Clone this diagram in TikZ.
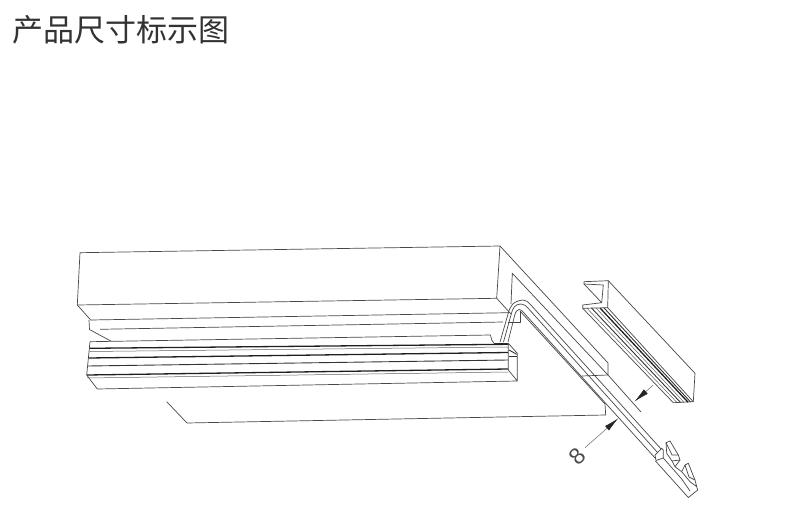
\documentclass[tikz,border=0pt]{standalone}
\usepackage{fontspec}
\setmainfont{Liberation Sans}
\newfontfamily\cjkfont{Noto Sans CJK SC}
\usetikzlibrary{arrows.meta}
\tikzset{
  ln/.style={draw=black!72,line width=0.7pt,line join=round},
  thin ln/.style={draw=black!62,line width=0.5pt,line join=round},
  stripe/.style={draw=black!88,line width=1.3pt},
  stripeb/.style={draw=black!80,line width=0.9pt},
  dim/.style={draw=black!60,line width=0.5pt,-{Latex[length=15pt,width=6pt,black!85]}},
}
\begin{document}
\begin{tikzpicture}[x=1pt,y=-1pt]
\useasboundingbox (0,0) rectangle (795,508);
\node[anchor=west,inner sep=0pt,text=black!80,font=\cjkfont\fontsize{31}{33}\selectfont] (title) at (12,30) {产品尺寸标示图};
% upper beam
\draw[ln] (77.3,305) -- (80,252.7) -- (500,246) -- (608,363) -- (608,375) -- (581.7,376);
\draw[ln] (77.3,305) -- (496.7,298.3) -- (500,246);
\draw[ln] (77.3,305) -- (90.7,320) -- (509,312.7);
\draw[ln] (496.7,298.3) -- (511,314);
\draw[ln] (511,304) -- (512.3,273.3) -- (608,375) -- (641,412);
% stepped block under beam
\draw[ln] (89,320) -- (89.5,329.5) -- (110.7,341);
\draw[ln] (100,329.3) -- (503,322);
\draw[ln] (508,322.3) -- (520,322.3) -- (520,311);
% ceiling rebate
\draw[ln] (520,311) -- (605,404) -- (605.7,415) -- (187,423) -- (166.7,401.7);
% profile in place
\draw[ln] (90,341.7) -- (490.5,335) -- (491.7,340) -- (494,343.3);
\draw[stripeb] (494,343.3) -- (508.3,343.3);
\draw[ln] (90,341.7) -- (86.7,375) -- (97.3,389) -- (517.3,381);
\draw[stripe] (89.5,348.3) -- (508,344.3);
\draw[thin ln] (89.5,351.5) -- (508,347);
\draw[stripe] (88.5,358) -- (508,352.5);
\draw[stripeb] (88,366) -- (508,360);
\draw[stripe] (87,375) -- (508,369);
\draw[thin ln] (87,378) -- (508,372);
\draw[ln] (508.3,343.3) -- (517.3,353.3) -- (517.3,381) -- (508.3,370) -- cycle;
\draw[stripeb] (509,350) -- (516.7,354.3);
\draw[stripeb] (509,356.7) -- (516.7,356.7);
% wire
\draw[ln] (500,342) -- (508,314) .. controls (510,306) and (513,301) .. (523,300) .. controls (526,300) and (528,302) .. (530,304) -- (662,450);
\draw[ln] (503.5,342) -- (511,315) .. controls (512.5,308) and (515,304) .. (521,304) .. controls (524,304) and (526,306) .. (527,307) -- (658,453);
\draw[ln] (508,342) -- (514.5,316) .. controls (515.5,312) and (517,309.5) .. (519,309.5) .. controls (521,309.5) and (522,310.5) .. (524,313) -- (656,459);
% right profile
\draw[ln] (584,281.7) -- (608.3,280.7) -- (695,373.3) -- (693.3,401.7) -- (673.3,402.7);
\draw[ln] (584,281.7) -- (584,284) -- (601.7,302.7) -- (582.7,305) -- (582.7,308.3) -- (607.7,307.7) -- (608.3,280.7);
\draw[ln] (584,284) -- (603.3,285) -- (601.7,302.7);
\draw[ln] (582.7,308.3) -- (673.3,402.7);
\draw[thin ln] (587,308.3) -- (677,402.5);
\draw[stripeb] (591.5,308) -- (680.5,402.4);
\draw[thin ln] (596,308) -- (684,402.3);
\draw[stripe] (600,308) -- (688,402.2);
\draw[stripeb] (604,307.9) -- (690.5,402);
\draw[ln] (607.7,307.7) -- (693.3,401.7);
% dimension arrows
\coordinate (a1s) at (653.3,385); \coordinate (a1e) at (634.5,401.5);
\coordinate (a2s) at (585,447.7); \coordinate (a2e) at (618.3,418.3);
\draw[dim] (a1s) -- (a1e);
\draw[dim] (a2s) -- (a2e);
\node[rotate=45,text=black!70,inner sep=0pt,font=\fontsize{23}{23}\selectfont] (eight) at (577.3,456) {8};
% connector body
\draw[ln,fill=white] (655,455) -- (661.7,448.3) -- (663.3,450) -- (663.3,458) -- (656,460.5) -- cycle;
\draw[ln] (655.5,461) -- (688.3,497.5) -- (697.7,490) -- (696.7,486.7);
\draw[ln] (663.3,458) -- (681.7,479) -- (690,491);
% first latch
\draw[ln,fill=white] (666.7,453.3) -- (666,442.7) -- (670,441) -- (678.3,455) -- (680,460) -- (675,466.7) -- (672,461) -- cycle;
\draw[ln] (666,442.7) -- (672,455) -- (678.3,455);
\draw[ln] (672,461) -- (680,460);
% second latch
\draw[ln,fill=white] (681.7,471.7) -- (685,465) -- (688.3,463.3) -- (695,480) -- (696.7,486.7) -- (690,481.7) -- cycle;
\draw[ln] (685,465) -- (689,477) -- (695,480);
\draw[ln] (675,466.7) -- (681.7,471.7);
\end{tikzpicture}
\end{document}
